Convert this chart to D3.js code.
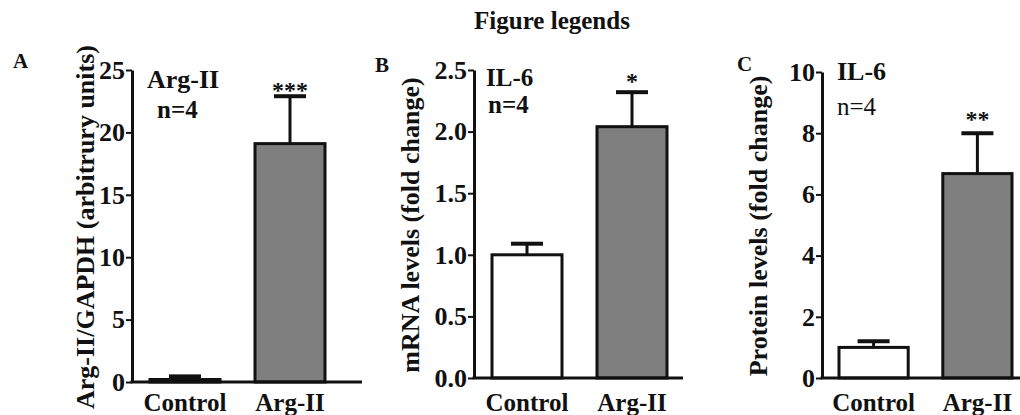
<!DOCTYPE html>
<html>
<head>
<meta charset="utf-8">
<script src="https://cdn.jsdelivr.net/npm/d3@7"></script>
<style>
  body { margin: 0; background: #fff; }
  svg text { font-family: "Liberation Serif", "Times New Roman", serif; fill: #111; }
</style>
</head>
<body>
<div id="chart"></div>
<script>
// Data
const categories = ["Control", "Arg-II"];

const argMeans = [0.2, 19.1];
const argErrors = [0.25, 3.8];
const argTicks = [0, 5, 10, 15, 20, 25];

const mrnaMeans = [1.0, 2.04];
const mrnaErrors = [0.09, 0.28];
const mrnaTicks = [0, 0.5, 1.0, 1.5, 2.0, 2.5];

const proteinMeans = [1.0, 6.68];
const proteinErrors = [0.2, 1.32];
const proteinTicks = [0, 2, 4, 6, 8, 10];

const stars = ["***", "*", "**"];

const width = 1020;
const height = 415;

const svg = d3.select('#chart')
  .append('svg')
  .attr('width', width)
  .attr('height', height);

// Title
svg.append('text')
  .text('Figure legends')
  .attr('x', 552)
  .attr('y', 29)
  .attr('text-anchor', 'middle')
  .attr('font-weight', 'bold')
  .attr('font-size', 25);

// Panel layout
const panels = [
  {
    letter: 'A', lx: 13, ly: 68,
    means: argMeans, errors: argErrors, ticks: argTicks, max: 25, fmt: d3.format('d'),
    axisX: 132, axisEnd: 362, top: 70, bottom: 382, bars: [150, 325],
    ylabel: 'Arg-II/GAPDH (arbitrury units)', ylx: 85,
    note: ['Arg-II', 'n=4'], noteX: [147, 157], noteY: [88, 118], noteBold: [true, true], noteSize: [26, 25],
    starY: 98
  },
  {
    letter: 'B', lx: 375, ly: 72,
    means: mrnaMeans, errors: mrnaErrors, ticks: mrnaTicks, max: 2.5, fmt: d3.format('.1f'),
    axisX: 474, axisEnd: 683, top: 70, bottom: 378, bars: [492, 667],
    ylabel: 'mRNA levels (fold change)', ylx: 410,
    note: ['IL-6', 'n=4'], noteX: [486, 488], noteY: [86, 113], noteBold: [true, true], noteSize: [25, 25],
    starY: 89
  },
  {
    letter: 'C', lx: 737, ly: 71,
    means: proteinMeans, errors: proteinErrors, ticks: proteinTicks, max: 10, fmt: d3.format('d'),
    axisX: 822, axisEnd: 1020, top: 72, bottom: 378, bars: [839, 1012],
    ylabel: 'Protein levels (fold change)', ylx: 758,
    note: ['IL-6', 'n=4'], noteX: [837, 837], noteY: [80, 115], noteBold: [true, false], noteSize: [26, 25],
    starY: 127
  }
];

panels.forEach((p, pi) => {
  const g = svg.append('g');

  const y = d3.scaleLinear().domain([0, p.max]).range([p.bottom, p.top]);
  const x = d3.scaleBand().domain(categories).range(p.bars).paddingInner(1 / 3).paddingOuter(0);

  // Panel letter
  g.append('text')
    .text(p.letter)
    .attr('x', p.lx)
    .attr('y', p.ly)
    .attr('font-weight', 'bold')
    .attr('font-size', 21);

  // Bars
  g.selectAll('rect.bar')
    .data(categories)
    .join('rect')
    .attr('class', 'bar')
    .attr('x', d => x(d))
    .attr('y', (d, i) => y(p.means[i]))
    .attr('width', x.bandwidth())
    .attr('height', (d, i) => y(0) - y(p.means[i]))
    .attr('fill', (d, i) => i === 0 ? '#fff' : '#7f7f7f')
    .attr('stroke', '#111')
    .attr('stroke-width', 3);

  // Error bars (upper only)
  g.selectAll('line.err')
    .data(categories)
    .join('line')
    .attr('class', 'err')
    .attr('x1', d => x(d) + x.bandwidth() / 2)
    .attr('x2', d => x(d) + x.bandwidth() / 2)
    .attr('y1', (d, i) => y(p.means[i]))
    .attr('y2', (d, i) => y(p.means[i] + p.errors[i]))
    .attr('stroke', '#111')
    .attr('stroke-width', 3);

  g.selectAll('line.cap')
    .data(categories)
    .join('line')
    .attr('class', 'cap')
    .attr('x1', d => x(d) + x.bandwidth() / 2 - 16)
    .attr('x2', d => x(d) + x.bandwidth() / 2 + 16)
    .attr('y1', (d, i) => y(p.means[i] + p.errors[i]))
    .attr('y2', (d, i) => y(p.means[i] + p.errors[i]))
    .attr('stroke', '#111')
    .attr('stroke-width', 4);

  // Significance stars
  g.append('text')
    .text(stars[pi])
    .attr('x', x(categories[1]) + x.bandwidth() / 2)
    .attr('y', p.starY)
    .attr('text-anchor', 'middle')
    .attr('font-weight', 'bold')
    .attr('font-size', 24);

  // Y axis
  const yAxis = g.append('g')
    .attr('transform', `translate(${p.axisX},0)`)
    .call(d3.axisLeft(y).tickValues(p.ticks).tickFormat(p.fmt).tickSize(6).tickSizeOuter(0).tickPadding(1));
  yAxis.select('.domain').attr('stroke', '#111').attr('stroke-width', 3);
  yAxis.selectAll('.tick line').attr('stroke', '#111').attr('stroke-width', 2);
  yAxis.selectAll('.tick text')
    .attr('font-family', '"Liberation Serif", "Times New Roman", serif')
    .attr('font-weight', 'bold')
    .attr('font-size', 26)
    .attr('fill', '#111');

  // X axis baseline
  g.append('line')
    .attr('x1', p.axisX - 1.5)
    .attr('x2', p.axisEnd)
    .attr('y1', y(0))
    .attr('y2', y(0))
    .attr('stroke', '#111')
    .attr('stroke-width', 3);

  // Category labels
  g.selectAll('text.cat')
    .data(categories)
    .join('text')
    .attr('class', 'cat')
    .text(d => d)
    .attr('x', d => x(d) + x.bandwidth() / 2)
    .attr('y', 411)
    .attr('text-anchor', 'middle')
    .attr('font-weight', 'bold')
    .attr('font-size', 25);

  // Y label
  g.append('text')
    .text(p.ylabel)
    .attr('transform', `translate(${p.ylx},${(p.top + p.bottom) / 2 + 1}) rotate(-90)`)
    .attr('dy', '0.35em')
    .attr('text-anchor', 'middle')
    .attr('font-weight', 'bold')
    .attr('font-size', 26);

  // Inset notes
  p.note.forEach((t, i) => {
    g.append('text')
      .text(t)
      .attr('x', p.noteX[i])
      .attr('y', p.noteY[i])
      .attr('font-weight', p.noteBold[i] ? 'bold' : 'normal')
      .attr('font-size', p.noteSize[i]);
  });
});
</script>
</body>
</html>
